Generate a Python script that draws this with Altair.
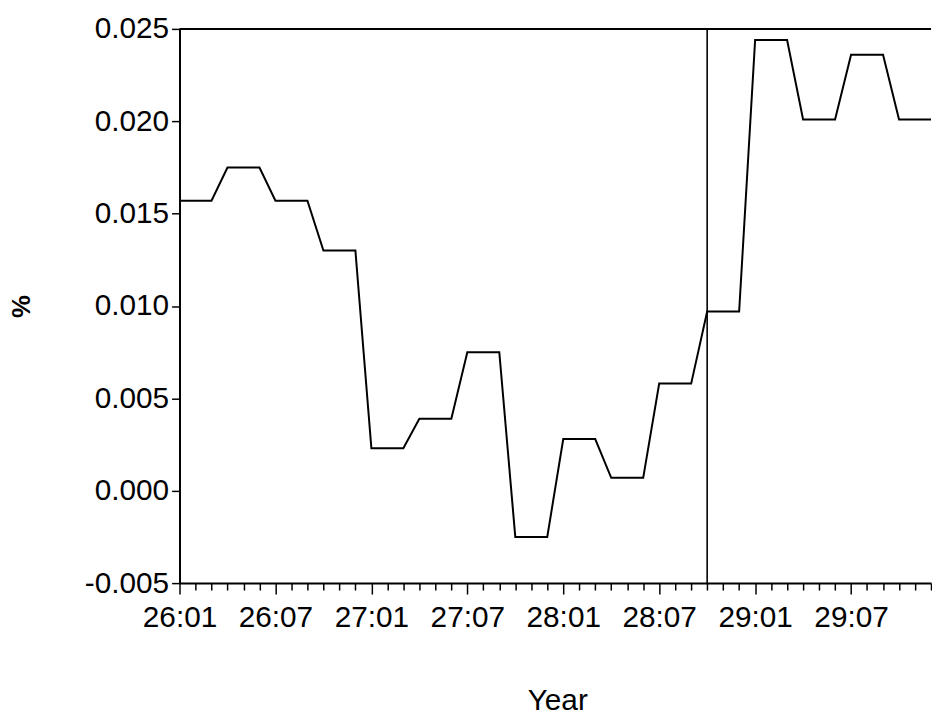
import altair as alt
import pandas as pd

# ---- data ----
month_index = list(range(48))  # 26:01 ... 29:12
rate = [
    0.0157, 0.0157, 0.0157,
    0.0175, 0.0175, 0.0175,
    0.0157, 0.0157, 0.0157,
    0.0130, 0.0130, 0.0130,
    0.0023, 0.0023, 0.0023,
    0.0039, 0.0039, 0.0039,
    0.0075, 0.0075, 0.0075,
    -0.0025, -0.0025, -0.0025,
    0.0028, 0.0028, 0.0028,
    0.0007, 0.0007, 0.0007,
    0.0058, 0.0058, 0.0058,
    0.0097, 0.0097, 0.0097,
    0.0244, 0.0244, 0.0244,
    0.0201, 0.0201, 0.0201,
    0.0236, 0.0236, 0.0236,
    0.0201, 0.0201, 0.0201,
]
x_labels = ["26:01", "26:07", "27:01", "27:07", "28:01", "28:07", "29:01", "29:07"]
y_ticks = [-0.005, 0.000, 0.005, 0.010, 0.015, 0.020, 0.025]
marker_month = [33]

W, H = 758, 559
FONT = "Liberation Sans"
FS = 30

df = pd.DataFrame({"m": month_index, "v": rate})
marker_df = pd.DataFrame({"m": marker_month})
top_df = pd.DataFrame({"v": [max(y_ticks)]})

label_arr = "[" + ",".join("'%s'" % s for s in x_labels) + "]"

x_scale = alt.Scale(domain=[month_index[0], month_index[-1]], nice=False, zero=False)
y_scale = alt.Scale(domain=[min(y_ticks), max(y_ticks)], nice=False, zero=False)

x_axis = alt.Axis(
    values=month_index,
    labelExpr="datum.value % 6 === 0 ? " + label_arr + "[datum.value / 6] : ''",
    tickSize={"condition": {"test": "datum.value % 6 === 0", "value": 11}, "value": 7},
    tickWidth=1.5,
    tickColor="black",
    domainColor="black",
    domainWidth=2,
    grid=False,
    labelFont=FONT,
    labelFontSize=FS,
    labelColor="black",
    labelPadding=9,
    labelOverlap=False,
    labelFlush=False,
    title="Year",
    titleFont=FONT,
    titleFontSize=FS,
    titleFontWeight="normal",
    titleColor="black",
    titleX=W / 2 + 2,
    titleY=127,
    titleAlign="center",
    titleBaseline="alphabetic",
)

y_axis = alt.Axis(
    values=y_ticks,
    labelExpr="replace(format(datum.value, '.3f'), '\u2212', '-')",
    tickSize=8,
    tickWidth=1.5,
    tickColor="black",
    domainColor="black",
    domainWidth=2,
    grid=False,
    labelFont=FONT,
    labelFontSize=FS,
    labelColor="black",
    labelPadding=3,
    labelOverlap=False,
    labelFlush=False,
    title="%",
    titleFont=FONT,
    titleFontSize=26,
    titleFontWeight="bold",
    titleColor="black",
    titleX=-159,
    titleY=H / 2,
    titleAngle=-90,
    titleAlign="center",
    titleBaseline="middle",
)

line = alt.Chart(df).mark_line(color="black", strokeWidth=2).encode(
    x=alt.X("m:Q", scale=x_scale, axis=x_axis),
    y=alt.Y("v:Q", scale=y_scale, axis=y_axis),
)

vline = alt.Chart(marker_df).mark_rule(color="black", strokeWidth=1.6).encode(
    x=alt.X("m:Q", scale=x_scale, axis=x_axis),
)

top_rule = alt.Chart(top_df).mark_rule(color="black", strokeWidth=2).encode(
    y=alt.Y("v:Q", scale=y_scale, axis=y_axis),
)

chart = (
    alt.layer(line, vline, top_rule)
    .properties(
        width=W,
        height=H,
        autosize=alt.AutoSizeParams(type="none"),
        padding={"left": 173, "top": 18, "right": 1, "bottom": 135},
        background="white",
    )
    .configure_view(stroke=None)
)

chart.save("out.html", embed_options={"renderer": "svg", "actions": False})
